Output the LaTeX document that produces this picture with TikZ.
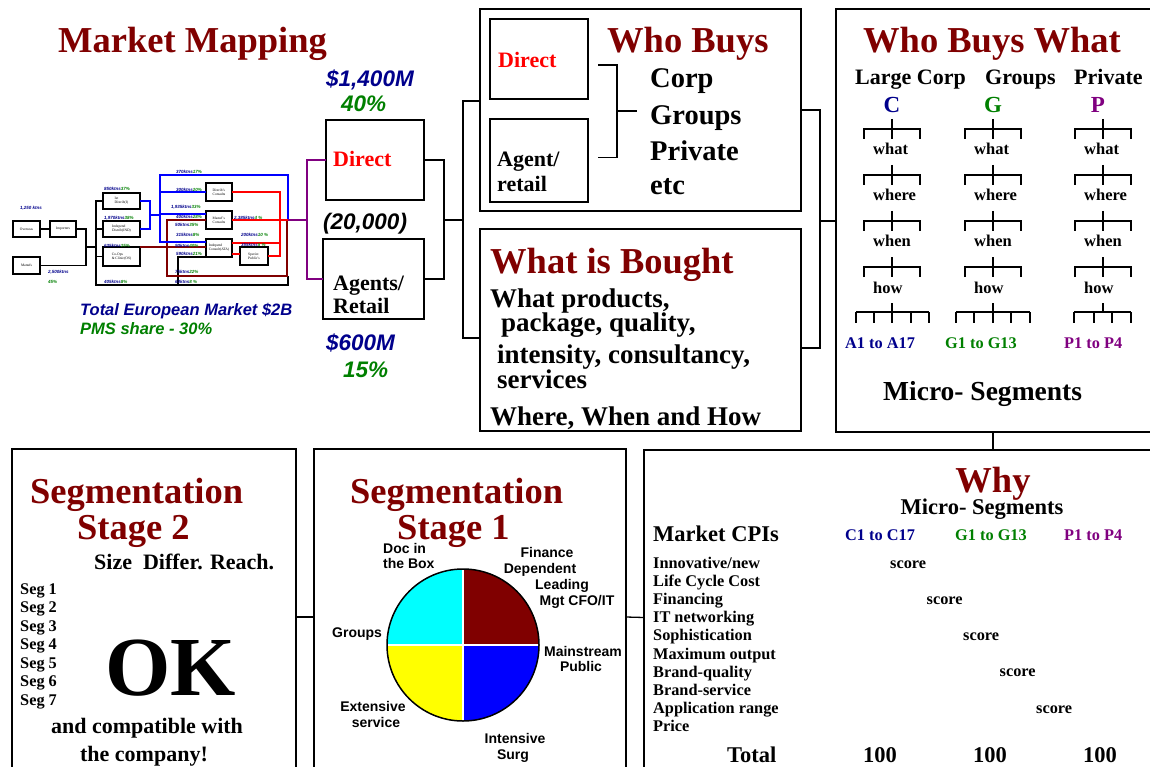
\documentclass[tikz,border=0pt]{standalone}
\usepackage{fontspec}
\setmainfont{Liberation Serif}
\setsansfont{Liberation Sans}

\definecolor{titlered}{RGB}{128,0,0}
\definecolor{navyblue}{RGB}{0,0,140}
\definecolor{darkgreen}{RGB}{0,128,0}
\definecolor{segpurple}{RGB}{128,0,128}
\definecolor{piecyan}{RGB}{0,255,255}
\definecolor{pieyellow}{RGB}{255,255,0}
\definecolor{pieblue}{RGB}{0,0,255}

\tikzset{
  box/.style={draw, line width=1.3pt, inner sep=0pt, outer sep=0pt},
  mbox/.style={draw, fill=white, line width=1.1pt, inner sep=0.5pt, outer sep=0pt, align=left, font=\fontsize{3.6}{4}\selectfont},
  link/.style={line width=1.3pt},
  mlink/.style={line width=1.1pt},
  blink/.style={line width=1.3pt, blue},
  rlink/.style={line width=1.1pt, red},
  mrlink/.style={line width=1.1pt, titlered},
  plink/.style={line width=1.1pt, segpurple},
  tick/.style={line width=1.2pt},
  txt/.style={inner sep=0pt, anchor=base west},
  ctxt/.style={inner sep=0pt, anchor=base},
  title/.style={txt, text=titlered, font=\fontsize{36.5}{40}\selectfont\bfseries},
  lbl/.style={txt, font=\fontsize{22}{24}\selectfont\bfseries},
  list/.style={txt, font=\fontsize{28.5}{30}\selectfont\bfseries},
  body/.style={txt, font=\fontsize{27}{30}\selectfont\bfseries},
  colhead/.style={txt, font=\fontsize{22}{24}\selectfont\bfseries},
  letter/.style={ctxt, font=\fontsize{23}{25}\selectfont\bfseries},
  wlabel/.style={txt, font=\fontsize{16.5}{18}\selectfont\bfseries},
  small/.style={txt, font=\fontsize{16.3}{18}\selectfont\bfseries},
  micro/.style={txt, font=\fontsize{27.5}{30}\selectfont\bfseries},
  mid/.style={txt, font=\fontsize{22.5}{24}\selectfont\bfseries},
  money/.style={txt, font=\sffamily\bfseries\itshape\fontsize{22.5}{24}\selectfont},
  mapnote/.style={txt, font=\sffamily\bfseries\itshape\fontsize{16.5}{18}\selectfont},
  pielab/.style={ctxt, font=\sffamily\bfseries\fontsize{14}{16}\selectfont},
  mlab/.style={inner sep=0pt, anchor=west, font=\sffamily\bfseries\itshape\fontsize{4.5}{5}\selectfont},
  okstyle/.style={txt, font=\fontsize{84}{90}\selectfont\bfseries}
}
\newcommand{\kt}[2]{\textcolor{navyblue}{#1}\textcolor{darkgreen}{#2}}

\begin{document}
\begin{tikzpicture}[x=1pt, y=-1pt]
  \fill[white] (0,0) rectangle (1150,767);
  \useasboundingbox (0,0) rectangle (1150,767);

  % Small market map
  \node[mbox, minimum width=27, minimum height=16] (ovs) at (26.5,229) {Overseas};
  \node[mbox, minimum width=26, minimum height=16] (imp) at (63,229) {Importers};
  \node[mbox, minimum width=27, minimum height=17] (mnf) at (26.5,265.5) {Manufs};
  \node[mbox, minimum width=37, minimum height=16] (ds1) at (121.5,201) {Ist\\Distrib(I)};
  \node[mbox, minimum width=37, minimum height=16] (ds2) at (121.5,229) {Independ\\Distrib(IND)};
  \node[mbox, minimum width=37, minimum height=19] (cop) at (121.5,256.5) {Co-Ops\\\& Clinic(OS)};
  \node[mbox, minimum width=26, minimum height=18] (dcs) at (219,192) {Distrib's\\Consults};
  \node[mbox, minimum width=26, minimum height=18] (mcs) at (219,220) {Manuf's\\Consults};
  \node[mbox, minimum width=26, minimum height=18] (ics) at (219,248) {Independ\\Consult(ATA)};
  \node[mbox, minimum width=28, minimum height=18] (spc) at (254,256) {Specist\\Public's};
  \coordinate (mj1) at (86,247);
  \coordinate (mj2) at (96,247);
  \coordinate (mbot) at (288,285);
  \coordinate (bj1) at (150,215);
  \coordinate (bj2) at (160,215);
  \coordinate (mjoin) at (288,220);
  \coordinate (rx) at (280,220);
  % black links
  \draw[mlink] (ovs) -- (imp);
  \draw[mlink] (imp.east) -| (mj1) |- (mnf.east);
  \draw[mlink] (mj1) -- (mj2);
  \draw[mlink] (ds1.west) -| (mj2 |- mbot) -- (mbot) -- ++(0,-9);
  \draw[mlink] (ds2.west) -- (ds2.west -| mj2);
  \draw[mlink] (cop.west) -- (cop.west -| mj2);
  \draw[mlink] (ics.south west) -- ++(-28,0) -- ++(0,28);
  % dark red links
  \draw[mrlink] (mcs.west) -- (167,220) -- (167,276) -- (287,276) -- (287,220) -- (mcs.east);
  \draw[mrlink] (cop.north east) -- (cop.north east -| ics.west);
  % blue links
  \draw[blink] (ds1.east) -| (bj1) |- (ds2.east);
  \draw[blink] (bj1) -- (bj2);
  \draw[blink] ([yshift=6pt]ics.west) -| (160,175) -| (mjoin);
  \draw[blink] (dcs.west) -- (dcs.west -| bj2);
  \draw[blink] ([yshift=6pt]mcs.west) -- ([yshift=6pt]mcs.west -| bj2);
  % red links
  \draw[rlink] (dcs.east) -| (rx) |- (spc.east);
  \draw[rlink] (mcs.east) -- (mjoin);
  \draw[rlink] ([yshift=5pt]ics.east) -- ([yshift=5pt]ics.east -| rx);
  \draw[rlink] ([yshift=-6pt]ics.east) -- ([yshift=-6pt]ics.east -| spc.west);
  % map figures
  \node[mlab] (k1) at (20,208) {\kt{1,250 ktns}{}};
  \node[mlab] (k2) at (48,272) {\kt{2,500ktns}{}};
  \node[mlab] (k3) at (48,282) {\kt{}{45\%}};
  \node[mlab] (k4) at (104,189) {\kt{850ktns}{37\%}};
  \node[mlab] (k5) at (104,218) {\kt{1,970ktns}{38\%}};
  \node[mlab] (k6) at (104,246) {\kt{635ktns}{25\%}};
  \node[mlab] (k7) at (104,282) {\kt{405ktns}{8\%}};
  \node[mlab] (k8) at (176,172) {\kt{370ktns}{17\%}};
  \node[mlab] (k9) at (176,190) {\kt{300ktns}{20\%}};
  \node[mlab] (k10) at (171,207) {\kt{1,935ktns}{33\%}};
  \node[mlab] (k11) at (176,217) {\kt{400ktns}{28\%}};
  \node[mlab] (k12) at (175,225) {\kt{50ktns}{35\%}};
  \node[mlab] (k13) at (234,218) {\kt{2,385ktns}{4 \%}};
  \node[mlab] (k14) at (176,235) {\kt{315ktns}{8\%}};
  \node[mlab] (k15) at (241,235) {\kt{200ktns}{10 \%}};
  \node[mlab] (k16) at (175,246) {\kt{90ktns}{40\%}};
  \node[mlab] (k17) at (241,245) {\kt{355ktns}{5 \%}};
  \node[mlab] (k18) at (176,254) {\kt{590ktns}{21\%}};
  \node[mlab] (k19) at (175,272) {\kt{75ktns}{22\%}};
  \node[mlab] (k20) at (175,282) {\kt{60ktns}{8 \%}};
  \node[mapnote, text=navyblue] (totE) at (80,315) {Total European Market \$2B};
  \node[mapnote, text=darkgreen] (pms) at (80,334) {PMS share - 30\%};
  \node[title] (mmT) at (58,53) {Market Mapping};

  % Direct / Agents
  \node[box, minimum width=98, minimum height=80] (dirA) at (375,160) {};
  \node[box, minimum width=101, minimum height=80] (agtA) at (373.5,279) {};
  \node[money, text=navyblue] (dirM) at (326,87) {\$1,400M};
  \node[money, text=darkgreen] (dirP) at (341,112) {40\%};
  \node[lbl, text=red] (dirL) at (333,167) {Direct};
  \node[money] (cnt) at (323,230) {(20,000)};
  \node[lbl] (agtL1) at (333,290) {Agents/};
  \node[lbl] (agtL2) at (333,313) {Retail};
  \node[money, text=navyblue] (agtM) at (326,350) {\$600M};
  \node[money, text=darkgreen] (agtP) at (343,377) {15\%};
  \coordinate (pj) at (307,220);
  \draw[plink] (mjoin) -- (pj);
  \draw[plink] (dirA.west) -| (pj) |- (agtA.west);

  % Who Buys
  \node[box, minimum width=321, minimum height=202] (wbo) at (640.5,110) {};
  \node[box, minimum width=98, minimum height=80] (wbd) at (539,59) {};
  \node[box, minimum width=98, minimum height=83] (wba) at (539,160.5) {};
  \node[lbl, text=red] (wbdL) at (498,68) {Direct};
  \node[lbl] (wbaL1) at (497,167) {Agent/};
  \node[lbl] (wbaL2) at (497,192) {retail};
  \node[title] (wbT) at (607,53) {Who Buys};
  \node[list] (corp) at (650,88) {Corp};
  \node[list] (grp) at (650,125) {Groups};
  \node[list] (prv) at (650,161) {Private};
  \node[list] (etc) at (650,195) {etc};
  \coordinate (wk) at (617,111);
  \coordinate (wk2) at (637,111);
  \draw[link] ([xshift=10pt, yshift=-6pt]wbd.east) -| (wk) |- ([xshift=10pt, yshift=3pt]wba.east);
  \draw[link] (wk) -- (wk2);

  % What is Bought
  \node[box, minimum width=321, minimum height=202] (wib) at (640.5,330) {};
  \node[title] (wibT) at (490,273) {What is Bought};
  \node[body] (wib1) at (490,307) {What products,};
  \node[body] (wib2) at (501,331) {package, quality,};
  \node[body] (wib3) at (497,363) {intensity, consultancy,};
  \node[body] (wib4) at (497,388) {services};
  \node[body] (wib5) at (490,425) {Where, When and How};

  % Links between the first boxes
  \coordinate (bk1) at (444,220);
  \coordinate (bk2) at (463,220);
  \draw[link] (dirA.east) -| (bk1) |- (agtA.east);
  \draw[link] (bk1) -- (bk2);
  \draw[link] ([yshift=9pt]wbo.west) -| (bk2) |- ([yshift=-8pt]wib.west);

  % Who Buys What
  \node[box, minimum width=329, minimum height=423] (wbw) at (1000.5,220.5) {};
  \coordinate (rk) at (820,221);
  \draw[link] (wbo.east) -| (rk) |- ([yshift=-18pt]wib.east);
  \draw[link] (rk) -- (rk -| wbw.west);
  \node[title] (wbwT) at (863,53) {Who Buys What};
  \node[colhead] (hC) at (855,85) {Large Corp};
  \node[colhead] (hG) at (985,85) {Groups};
  \node[colhead] (hP) at (1074,85) {Private};
  \node[letter, text=navyblue] (lC) at (892,113) {C};
  \node[letter, text=darkgreen] (lG) at (993,113) {G};
  \node[letter, text=segpurple] (lP) at (1098,113) {P};
  \foreach \cx in {892,993,1103} {
    \foreach \cy/\lvl in {129/what,175/where,221/when,267/how} {
      \draw[tick] (\cx-28,\cy+10) -- (\cx-28,\cy) -- (\cx+28,\cy) -- (\cx+28,\cy+10)
                  (\cx,\cy-10) -- (\cx,\cy+10);
      \node[wlabel] (wl-\cx-\cy) at (\cx-19,\cy+26) {\lvl};
    }
  }
  % bottom combs
  \draw[tick] (856,312) -- (929,312) (892,303) -- (892,323);
  \foreach \tx in {856,874,892,911,929} \draw[tick] (\tx,312) -- (\tx,323);
  \draw[tick] (956,312) -- (1030,312) (993,303) -- (993,323);
  \foreach \tx in {956,974,993,1011,1030} \draw[tick] (\tx,312) -- (\tx,323);
  \draw[tick] (1074,312) -- (1131,312) (1103,303) -- (1103,312);
  \foreach \tx in {1074,1094,1112,1131} \draw[tick] (\tx,312) -- (\tx,323);
  \node[small, text=navyblue] (rC) at (845,348) {A1 to A17};
  \node[small, text=darkgreen] (rG) at (945,348) {G1 to G13};
  \node[small, text=segpurple] (rP) at (1064,348) {P1 to P4};
  \node[micro] (ms1) at (883,400) {Micro- Segments};

  % Segmentation Stage 2
  \node[box, minimum width=284, minimum height=336] (sg2) at (154,617) {};
  \node[title] (s2T1) at (30,503) {Segmentation};
  \node[title] (s2T2) at (77,539) {Stage 2};
  \node[lbl] (crit) at (94,569) {Size\ \ Differ. Reach.};
  \foreach \i in {1,...,7}
    \node[small] (seg\i) at (20,{594+(\i-1)*18.5}) {Seg \i};
  \node[okstyle] (ok) at (105,695) {OK};
  \node[lbl, anchor=base] (cmp1) at (147,733) {and compatible with};
  \node[lbl, anchor=base] (cmp2) at (144,761) {the company!};

  % Segmentation Stage 1
  \node[box, minimum width=312, minimum height=336] (sg1) at (470,617) {};
  \node[title] (s1T1) at (350,503) {Segmentation};
  \node[title] (s1T2) at (397,539) {Stage 1};
  \coordinate (pc) at (463,645);
  \begin{scope}
    \clip (pc) circle[radius=76];
    \fill[titlered] (pc) rectangle ++(80,-80);
    \fill[pieblue] (pc) rectangle ++(80,80);
    \fill[pieyellow] (pc) rectangle ++(-80,80);
    \fill[piecyan] (pc) rectangle ++(-80,-80);
  \end{scope}
  \draw[white, line width=1.5pt] ([xshift=-76pt]pc) -- ([xshift=76pt]pc);
  \draw[white, line width=1.5pt] ([yshift=-76pt]pc) -- ([yshift=76pt]pc);
  \draw[line width=1.5pt] (pc) circle[radius=76];
  \node[pielab, anchor=base west] (pl1a) at (383,553) {Doc in};
  \node[pielab, anchor=base west] (pl1b) at (383,568) {the Box};
  \node[pielab] (pl2a) at (547,557) {Finance};
  \node[pielab] (pl2b) at (540,573) {Dependent};
  \node[pielab] (pl2c) at (562,589) {Leading};
  \node[pielab] (pl2d) at (577,605) {Mgt CFO/IT};
  \node[pielab, anchor=base west] (pl3) at (332,637) {Groups};
  \node[pielab] (pl4a) at (583,656) {Mainstream};
  \node[pielab] (pl4b) at (581,671) {Public};
  \node[pielab] (pl5a) at (373,711) {Extensive};
  \node[pielab] (pl5b) at (376,727) {service};
  \node[pielab] (pl6a) at (515,743) {Intensive};
  \node[pielab] (pl6b) at (513,759) {Surg};

  % Why
  \node[box, minimum width=521, minimum height=335] (why) at (904.5,617.5) {};
  \node[title, anchor=base] (whyT) at (993,492) {Why};
  \node[mid, anchor=base] (ms2) at (982,514) {Micro- Segments};
  \node[mid] (cpi) at (653,541) {Market CPIs};
  \node[small, text=navyblue] (cC) at (845,540) {C1 to C17};
  \node[small, text=darkgreen] (cG) at (955,540) {G1 to G13};
  \node[small, text=segpurple] (cP) at (1064,540) {P1 to P4};
  \foreach \r [count=\i] in {{Innovative/new},{Life Cycle Cost},{Financing},{IT networking},{Sophistication},{Maximum output},{Brand-quality},{Brand-service},{Application range},{Price}}
    \node[small] (cpi\i) at (653,{568+(\i-1)*18.2}) {\r};
  \foreach \i in {0,...,4}
    \node[small] (sc\i) at ({890+36.5*\i},{568+36.3*\i}) {score};
  \node[mid] (totT) at (727,762) {Total};
  \node[mid] (h1) at (863,762) {100};
  \node[mid] (h2) at (973,762) {100};
  \node[mid] (h3) at (1083,762) {100};

  % Links between the bottom boxes
  \draw[link] (sg2.east) -- (sg1.west);
  \draw[link] (sg1.east) -- (why.west);
  \draw[link] (wbw.south -| whyT) -- (why.north -| whyT);
\end{tikzpicture}
\end{document}
